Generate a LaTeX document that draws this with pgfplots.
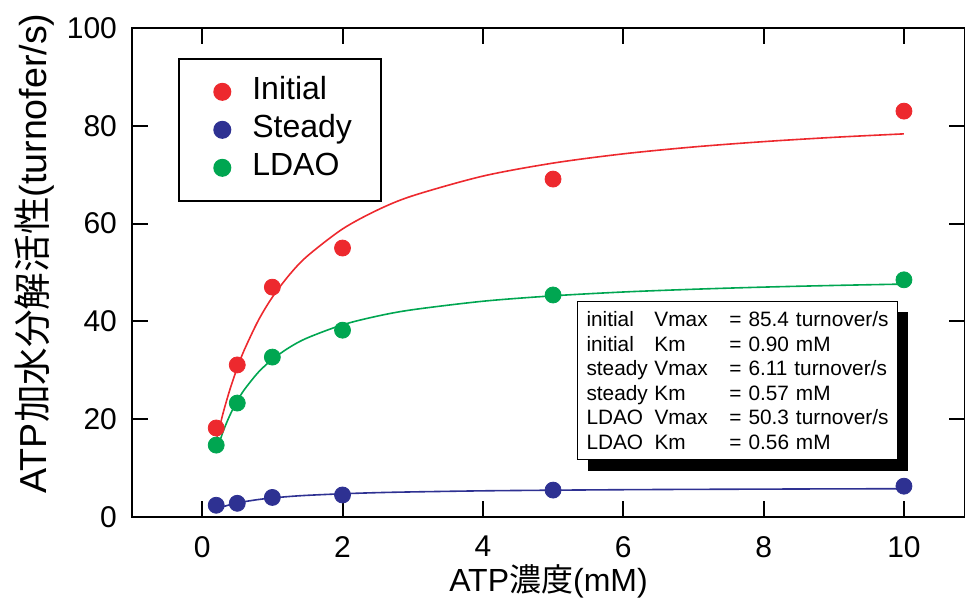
\documentclass[border=0pt]{standalone}
\usepackage{fontspec}
\setmainfont{Liberation Sans}
\newfontfamily\cjk{Noto Sans CJK JP}
\usepackage{pgfplots}
\pgfplotsset{compat=1.18}
\usetikzlibrary{shadows}

\definecolor{cred}{RGB}{237,41,46}
\definecolor{cblue}{RGB}{46,49,146}
\definecolor{cgreen}{RGB}{0,166,81}

\newcommand\inforow[3]{\makebox[34pt][l]{#1}\makebox[37.5pt][l]{#2}#3}

\begin{document}
\begin{tikzpicture}
\begin{axis}[
  name=ax,
  scale only axis,
  width=416.5pt, height=244.5pt,
  xmin=-1, xmax=10.87, ymin=0, ymax=100,
  xtick={0,2,...,10}, ytick={0,20,...,100},
  tick align=inside,
  major tick length=8pt,
  axis line style={line width=1pt},
  every tick/.style={black, line width=1pt},
  tick label style={font=\fontsize{15}{17}\selectfont},
  /pgf/number format/assume math mode=true,
  xticklabel style={yshift=-6pt},
  yticklabel style={xshift=-4pt},
  xlabel={ATP{\cjk 濃度}(mM)},
  ylabel={ATP{\cjk 加水分解活性}(turnofer/s)},
  xlabel style={font=\fontsize{16}{19}\selectfont, at={(axis description cs:0.5,-0.131)}, anchor=center},
  ylabel style={font=\fontsize{18.8}{21}\selectfont, at={(axis description cs:-0.117,0.539)}, anchor=center},
  legend cell align=left,
  legend image code/.code={%
    \path (-8.5pt,0pt) (12.5pt,0pt);
    \draw[#1] plot coordinates {(0pt,0pt)};},
  legend style={at={(axis cs:-0.34,93.9)}, anchor=north west, draw=black, line width=1pt,
    font=\fontsize{16}{19}\selectfont, inner xsep=12.5pt, inner ysep=7pt,
    nodes={text height=11.5pt, text depth=3.5pt, inner sep=2pt}},
  clip=false,
]
% fitted Michaelis-Menten curves
\addplot[cred, line width=0.8pt, smooth, forget plot] coordinates {
 (0.2,15.53) (0.3,21.35) (0.4,26.28) (0.5,30.50) (0.6,34.16) (0.8,40.19)
 (1,44.95) (1.25,49.65) (1.5,53.38) (2,58.90) (2.5,62.79) (3,65.69)
 (4,69.71) (5,72.37) (6,74.26) (7,75.67) (8,76.76) (9,77.64) (10,78.35)};
\addplot[cblue, line width=0.8pt, smooth, forget plot] coordinates {
 (0.2,1.59) (0.3,2.11) (0.4,2.52) (0.5,2.86) (0.6,3.13) (0.8,3.57)
 (1,3.89) (1.25,4.20) (1.5,4.43) (2,4.75) (2.5,4.98) (3,5.13)
 (4,5.35) (5,5.48) (6,5.58) (7,5.65) (8,5.70) (9,5.75) (10,5.78)};
\addplot[cgreen, line width=0.8pt, smooth, forget plot] coordinates {
 (0.2,13.24) (0.3,17.55) (0.4,20.96) (0.5,23.73) (0.6,26.02) (0.8,29.59)
 (1,32.24) (1.25,34.74) (1.5,36.63) (2,39.30) (2.5,41.09) (3,42.39)
 (4,44.12) (5,45.23) (6,46.01) (7,46.57) (8,47.01) (9,47.35) (10,47.63)};
% measured points
\addplot[only marks, mark=*, mark size=4pt, color=cred, mark options={draw=cred, fill=cred}] coordinates {
 (0.2,18.2) (0.5,31.1) (1,47.0) (2,55.0) (5,69.1) (10,83.0)};
\addlegendentry{Initial}
\addplot[only marks, mark=*, mark size=4pt, color=cblue, mark options={draw=cblue, fill=cblue}] coordinates {
 (0.2,2.4) (0.5,2.8) (1,4.0) (2,4.5) (5,5.5) (10,6.3)};
\addlegendentry{Steady}
\addplot[only marks, mark=*, mark size=4pt, color=cgreen, mark options={draw=cgreen, fill=cgreen}] coordinates {
 (0.2,14.7) (0.5,23.3) (1,32.7) (2,38.2) (5,45.4) (10,48.5)};
\addlegendentry{LDAO}

\node[draw=black, line width=0.6pt, fill=white, anchor=north west,
  drop shadow={shadow xshift=5pt, shadow yshift=-5.5pt, fill=black, opacity=1},
  text width=151pt, inner xsep=4.5pt, inner ysep=5pt, align=left,
  font=\fontsize{10.4}{12.3}\selectfont] at (axis cs:5.34,44.2) {%
  \inforow{initial}{Vmax}{= 85.4 turnover/s}\\
  \inforow{initial}{Km}{= 0.90 mM}\\
  \inforow{steady}{Vmax}{= 6.11 turnover/s}\\
  \inforow{steady}{Km}{= 0.57 mM}\\
  \inforow{LDAO}{Vmax}{= 50.3 turnover/s}\\
  \inforow{LDAO}{Km}{= 0.56 mM}};

\coordinate (bl) at (rel axis cs:0,0);
\coordinate (tr) at (rel axis cs:1,1);
\end{axis}
\pgfresetboundingbox
\path ([xshift=-66pt,yshift=-43pt]bl) rectangle ([yshift=14pt]tr);
\end{tikzpicture}
\end{document}
